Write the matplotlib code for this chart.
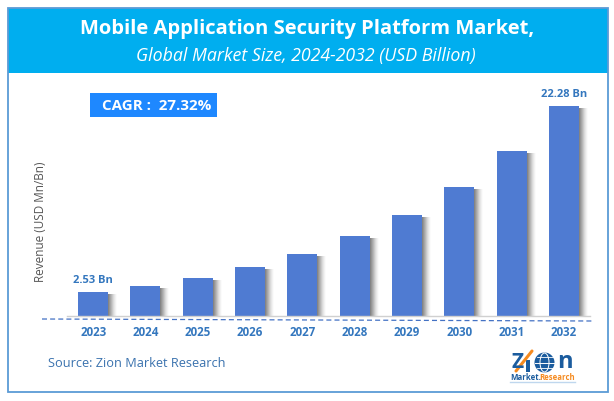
import matplotlib
matplotlib.use("Agg")
import matplotlib.pyplot as plt
from matplotlib.patches import Rectangle, Circle, Ellipse

years = ["2023", "2024", "2025", "2026", "2027", "2028", "2029", "2030", "2031", "2032"]
values = [2.53, 3.2, 4.0, 5.2, 6.6, 8.5, 10.7, 13.7, 17.5, 22.28]
value_labels = {0: "2.53 Bn", 9: "22.28 Bn"}

W, H = 614, 401
plt.rcParams["font.family"] = ["Open Sans", "DejaVu Sans"]
BLUE_TXT = "#3477BE"

fig = plt.figure(figsize=(W / 100, H / 100), dpi=100, facecolor="white")

# overlay in pixel coordinates for the frame and header
bg = fig.add_axes([0, 0, 1, 1], zorder=0)
bg.set_xlim(0, W)
bg.set_ylim(H, 0)
bg.axis("off")
bg.add_patch(Rectangle((7.5, 8), 600, 65, fc="#00AEEF", ec="none"))
bg.add_patch(Rectangle((7.5, 8), 600, 384, fc="none", ec="#5B9BD5", lw=1.3))
bg.text(307, 29, "Mobile Application Security Platform Market,", color="white",
        fontsize=14.5, fontweight="bold", ha="center", va="center")
bg.text(305.5, 56, "Global Market Size, 2024-2032 (USD Billion)", color="white",
        fontsize=12.8, style="italic", ha="center", va="center")
bg.add_patch(Rectangle((90, 93), 127, 24, fc="#1E88FF", ec="none"))
bg.text(157, 105.5, "CAGR :  27.32%", color="white", fontsize=10.9, fontweight="bold",
        ha="center", va="center")
bg.text(48, 363.5, "Source: Zion Market Research", color="#3A72AE", fontsize=9.2,
        ha="left", va="center")
bg.text(41, 222, "Revenue (USD Mn/Bn)", color="#555555", fontsize=8.5, rotation=90,
        ha="center", va="center")

# dashed rule under the axis
bg.plot([42, 592], [319, 321], color="#4472C4", lw=0.9, ls=(0, (4, 2.5)))

# logo
LOGO = "#1B5C9E"
bg.text(518, 368.5, "Z", color=LOGO, fontsize=15, fontweight="bold", ha="center", va="baseline")
bg.plot([516, 532], [371, 351], color="#F58A1F", lw=2.2, solid_capstyle="round")
bg.add_patch(Rectangle((526, 360), 4, 12, fc=LOGO, ec="none"))
bg.add_patch(Circle((544.5, 362.5), 10, fc=LOGO, ec="none"))
bg.add_patch(Ellipse((544.5, 362.5), 9, 19, fc="none", ec="white", lw=0.7))
bg.plot([535, 554], [362.5, 362.5], color="white", lw=0.7)
bg.plot([536.5, 552.5], [357, 357], color="white", lw=0.6)
bg.plot([536.5, 552.5], [368, 368], color="white", lw=0.6)
bg.text(565, 368.5, "n", color=LOGO, fontsize=17, fontweight="bold", ha="center", va="baseline")
bg.plot([510, 575], [382, 382], color="#BFD7EE", lw=1)
bg.text(510, 378, "Market.", color=LOGO, fontsize=5.6, fontweight="bold", ha="left", va="center")
bg.text(539, 378, "Research", color="#F58A1F", fontsize=5.6, fontweight="bold", ha="left", va="center")

# chart
ax = fig.add_axes([67 / W, 1 - 316 / H, 523 / W, 216 / H], zorder=1)
ax.patch.set_alpha(0)
xs = list(range(len(years)))
bar_w = 30 / 52.3
step = 1 / 52.3
for i in range(1, 10):
    ax.bar([x + i * step for x in xs], [v - 2 * 22.28 / 210 for v in values], width=bar_w,
           color="#444444", alpha=0.21 * (1 - i / 10), linewidth=0, zorder=1)
ax.bar(xs, values, width=bar_w, color="#4F7BD2", linewidth=0, zorder=2)
ax.set_xlim(-0.5, 9.5)
ax.set_ylim(0, 216 / (210 / 22.28))
ax.set_xticks(xs, years)
ax.set_yticks([])
ax.tick_params(axis="x", length=0, pad=7.5, labelsize=8.3, labelcolor=BLUE_TXT)
for t in ax.get_xticklabels():
    t.set_fontweight("bold")
for s in ["top", "left", "right"]:
    ax.spines[s].set_visible(False)
ax.spines["bottom"].set_color("#D0D0D0")
ax.spines["bottom"].set_linewidth(1)
for i, lab in value_labels.items():
    ax.annotate(lab, (xs[i], values[i]), xytext=(0, 4.5), textcoords="offset points",
                ha="center", va="bottom", fontsize=8, fontweight="bold", color=BLUE_TXT)

fig.savefig("out.png", dpi=100)
